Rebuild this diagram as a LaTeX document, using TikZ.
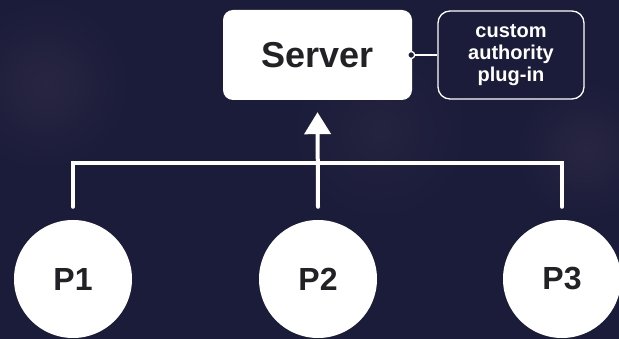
\documentclass[tikz,border=0pt]{standalone}
\usepackage{fontspec}
\setmainfont{Liberation Sans}
\usetikzlibrary{arrows.meta}

\definecolor{bg}{RGB}{26,28,58}
\definecolor{glow}{RGB}{40,37,66}
\definecolor{ink}{RGB}{34,34,38}

\begin{document}
\begin{tikzpicture}[x=1pt,y=-1pt,
  wire/.style={draw=white, line width=4pt, line cap=round},
  thinwire/.style={draw=white, line width=1.3pt},
  peer/.style={circle, fill=white, minimum size=118pt, inner sep=0pt,
    font=\bfseries\fontsize{32}{32}\selectfont, text=ink},
  serverbox/.style={rectangle, rounded corners=10pt, fill=white,
    minimum width=189pt, minimum height=90pt, inner sep=0pt,
    font=\bfseries\fontsize{36}{36}\selectfont, text=ink},
  pluginbox/.style={rectangle, rounded corners=12pt, draw=white, line width=1.3pt,
    fill=bg, minimum width=146pt, minimum height=88pt, inner sep=0pt,
    text=white, align=center, font=\bfseries\fontsize{20}{22}\selectfont},
  joint/.style={circle, draw=white, fill=bg, line width=1.3pt,
    minimum size=7pt, inner sep=0pt},
]
\useasboundingbox (0,0) rectangle (619,339);
\clip (0,0) rectangle (619,339);

% background with soft glows
\fill[bg] (0,0) rectangle (619,339);
\shade[inner color=glow, outer color=bg] (45,85) circle (85);
\shade[inner color=glow, outer color=bg] (585,150) circle (70);
\shade[inner color=glow!70!bg, outer color=bg] (380,130) circle (90);

% nodes
\node[serverbox] (server) at (317.5,55) {Server};
\node[pluginbox] (plugin) at (511,55) {custom\\authority\\plug-in};
\node[peer] (p1) at (73,279) {P1};
\node[peer] (p2) at (318,279) {P2};
\node[peer] (p3) at (562,279) {P3};

% plug-in attachment
\node[joint] (dot) at ([xshift=-1pt]server.east) {};
\draw[thinwire] (dot.east) -- (plugin.west);

% bus from the peers to the server
\coordinate (bus) at (318,163);
\draw[wire] ([yshift=13pt]p1.north) |- (bus) -| ([yshift=13pt]p3.north);
\draw[wire, -{Triangle[width=26pt,length=22pt]}]
  ([yshift=13pt]p2.north) -- ([yshift=-12pt]server.south);
\end{tikzpicture}
\end{document}
